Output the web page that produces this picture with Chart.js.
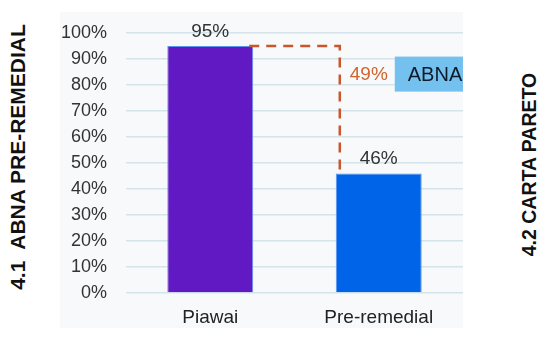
<!DOCTYPE html>
<html>
<head>
<meta charset="utf-8">
<script src="https://cdn.jsdelivr.net/npm/chart.js@4.4.1/dist/chart.umd.min.js"></script>
<style>
  html, body { margin: 0; padding: 0; background: #fff; }
  body { width: 554px; height: 339px; position: relative; overflow: hidden; font-family: "Liberation Sans", Arial, sans-serif; }
  #panel { position: absolute; left: 60px; top: 12px; width: 403px; height: 316px; background: #f7f9fb; }
  #wrap { position: absolute; left: 60px; top: 12px; width: 403px; height: 316px; }
  .side { position: absolute; font-weight: bold; color: #111; white-space: pre; transform: rotate(-90deg); transform-origin: center center; }
  #t1 { font-size: 21px; left: 18px; top: 157px; }
  #t2 { font-size: 19.5px; left: 529px; top: 164px; }
</style>
</head>
<body>
<div id="panel"></div>
<div id="wrap"><canvas id="c"></canvas></div>
<div class="side" id="t1">4.1  ABNA PRE-REMEDIAL</div>
<div class="side" id="t2">4.2 CARTA PARETO</div>
<script>
// data
const categories = ["Piawai", "Pre-remedial"]
const values = [95, 46]
const barColors = ["#6119c4", "#0064e8"]
const gapLabel = "49%"
const boxLabel = "ABNA"
const yTicks = [0, 10, 20, 30, 40, 50, 60, 70, 80, 90, 100]

// center the rotated titles on their anchor points
for (const id of ["t1", "t2"]) {
  const el = document.getElementById(id)
  el.style.left = (parseFloat(getComputedStyle(el).left) - el.offsetWidth / 2) + "px"
  el.style.top = (parseFloat(getComputedStyle(el).top) - el.offsetHeight / 2) + "px"
}

const FONT = "'Liberation Sans', Arial, sans-serif"

const extras = {
  id: "extras",
  afterDatasetsDraw(chart) {
    const { ctx } = chart
    const y = chart.scales.y
    const b0 = chart.getDatasetMeta(0).data[0]
    const b1 = chart.getDatasetMeta(0).data[1]
    const yTop = y.getPixelForValue(values[0])
    const yLow = y.getPixelForValue(values[1])
    const xStart = b0.x + b0.width / 2 - 4
    const xV = b1.x - b1.width / 2 + 4

    ctx.save()
    // dashed connector
    ctx.strokeStyle = "#c9572b"
    ctx.lineWidth = 2.5
    ctx.setLineDash([10, 7])
    ctx.beginPath()
    ctx.moveTo(xStart, yTop)
    ctx.lineTo(xV, yTop)
    ctx.lineTo(xV, yLow)
    ctx.stroke()
    ctx.setLineDash([])

    // value labels
    ctx.font = "19px " + FONT
    ctx.fillStyle = "#333"
    ctx.textAlign = "center"
    ctx.textBaseline = "bottom"
    chart.getDatasetMeta(0).data.forEach((bar, i) => {
      ctx.fillText(values[i] + "%", bar.x, bar.y - 5)
    })

    // gap label
    const yMid = y.getPixelForValue(84)
    ctx.fillStyle = "#d0642f"
    ctx.textAlign = "left"
    ctx.textBaseline = "middle"
    ctx.fillText(gapLabel, xV + 10, yMid)

    // ABNA box
    const bx = xV + 55
    ctx.fillStyle = "#74c0ee"
    ctx.fillRect(bx, yMid - 18, 80, 35)
    ctx.fillStyle = "#0d1b2a"
    ctx.font = "20px " + FONT
    ctx.fillText(boxLabel, bx + 13, yMid + 1)
    ctx.restore()
  }
}

new Chart(document.getElementById("c"), {
  type: "bar",
  data: {
    labels: categories,
    datasets: [{
      data: values,
      backgroundColor: barColors,
      borderColor: "#5b93ee",
      borderWidth: 1,
      barPercentage: 0.51,
      categoryPercentage: 1
    }]
  },
  options: {
    responsive: true,
    maintainAspectRatio: false,
    animation: false,
    layout: { padding: { top: 21, right: 0, left: 0, bottom: 0 } },
    plugins: { legend: { display: false }, tooltip: { enabled: false } },
    scales: {
      x: {
        afterFit(s) { s.height = 35 },
        grid: { display: false, drawTicks: false },
        border: { display: false },
        ticks: { color: "#222", font: { family: FONT, size: 19 }, padding: 13 }
      },
      y: {
        min: 0,
        max: 100,
        afterBuildTicks(s) { s.ticks = yTicks.map(v => ({ value: v })) },
        afterFit(s) { s.width = 66; s.paddingTop = 0; s.paddingBottom = 0 },
        grid: { color: "#d5e4ea", lineWidth: 1.5, drawTicks: false },
        border: { display: false },
        ticks: { color: "#333", font: { family: FONT, size: 18 }, padding: 19, autoSkip: false, callback: v => v + "%" }
      }
    }
  },
  plugins: [extras]
})
</script>
</body>
</html>
